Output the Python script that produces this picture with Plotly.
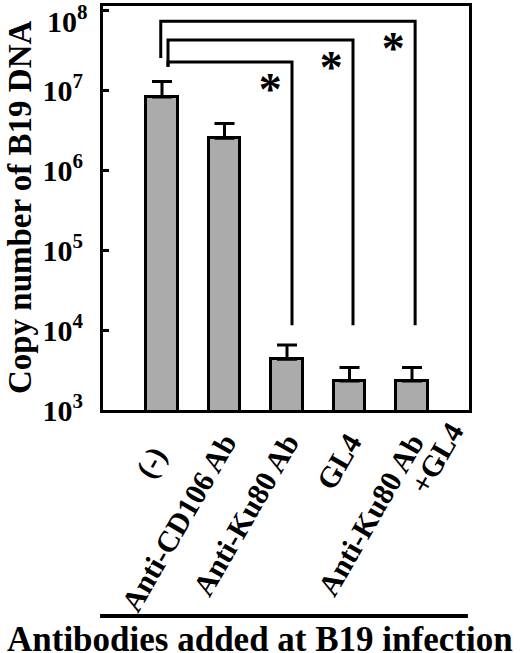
import plotly.graph_objects as go

# ---- data ----
categories = ["(-)", "Anti-CD106 Ab", "Anti-Ku80 Ab", "GL4", "Anti-Ku80 Ab +GL4"]
tick_labels = ["(-)&nbsp;&nbsp;", "Anti-CD106 Ab", "Anti-Ku80 Ab", "GL4", "Anti-Ku80 Ab"]
copy_number = [8.2e6, 2.5e6, 4.3e3, 2.3e3, 2.3e3]
error_upper = [1.28e7, 3.8e6, 6.5e3, 3.4e3, 3.4e3]
compared_to = [2, 3, 4]          # each compared with category 0, marked *
y_tick_vals = [1e3, 1e4, 1e5, 1e6, 1e7, 1e8]
y_tick_text = ["10<sup>3</sup>", "10<sup>4</sup>", "10<sup>5</sup>",
               "10<sup>6</sup>", "10<sup>7</sup>", ""]
top_tick_text = "10<sup>8</sup>"   # drawn a little lower, as in the reference

FONT = "Liberation Serif"
x_pos = list(range(len(categories)))
err_plus = [u - v for u, v in zip(error_upper, copy_number)]

fig = go.Figure()
fig.add_trace(go.Bar(
    x=x_pos, y=copy_number, width=0.51,
    marker=dict(color="#ababab", line=dict(color="black", width=3)),
    error_y=dict(type="data", symmetric=False, array=err_plus,
                 arrayminus=[0] * len(err_plus), color="black",
                 thickness=3, width=10),
    showlegend=False, hoverinfo="skip",
))

# significance brackets (log10 heights)
bracket_tops = {2: 7.35, 3: 7.625, 4: 7.86}
left_x = {2: 0.096, 3: 0.096, 4: -0.02}
left_bottom = {2: 7.29, 3: 7.29, 4: 7.40}
right_off = {2: 0.08, 3: 0.056, 4: 0.05}
leg_bottom = 4.06
for k in compared_to:
    top = 10 ** bracket_tops[k]
    xs = [left_x[k], left_x[k], k + right_off[k], k + right_off[k]]
    ys = [10 ** left_bottom[k], top, top, 10 ** leg_bottom]
    fig.add_trace(go.Scatter(x=xs, y=ys, mode="lines",
                             line=dict(color="black", width=3),
                             showlegend=False, hoverinfo="skip"))
    fig.add_trace(go.Scatter(x=[k + right_off[k] - 0.35],
                             y=[10 ** (bracket_tops[k] - 0.39)],
                             mode="text", text=["<b>*</b>"],
                             textfont=dict(family=FONT, size=46, color="black"),
                             textposition="middle center",
                             showlegend=False, hoverinfo="skip"))

fig.update_layout(
    width=520, height=653,
    margin=dict(l=103, r=51, t=6, b=243, autoexpand=False),
    paper_bgcolor="white", plot_bgcolor="white",
    bargap=0,
)
fig.update_xaxes(
    range=[-0.944, 4.912], tickmode="array", tickvals=x_pos,
    ticktext=["<b>%s</b>" % t for t in tick_labels],
    tickangle=-60, showline=True, mirror=True, linecolor="black", linewidth=3,
    ticks="", showgrid=False, zeroline=False, automargin=False,
    ticklabeloverflow="allow",
    tickfont=dict(family=FONT, size=30, color="black"),
)
fig.update_yaxes(
    type="log", range=[3, 8.05], tickmode="array", tickvals=y_tick_vals,
    ticktext=["<b>%s</b>" % t if t else "" for t in y_tick_text],
    ticks="inside", ticklen=6, tickwidth=3, tickcolor="black",
    showline=True, mirror=True, linecolor="black", linewidth=3,
    showgrid=False, zeroline=False, ticklabelstandoff=11, automargin=False,
    ticklabeloverflow="allow",
    tickfont=dict(family=FONT, size=30, color="black"),
)

fig.add_annotation(xref="paper", yref="y", x=-0.035, y=8, yshift=-9,
                   xanchor="right", yanchor="middle", showarrow=False,
                   text="<b>%s</b>" % top_tick_text,
                   font=dict(family=FONT, size=30, color="black"))
fig.add_annotation(xref="x", yref="paper", x=4, y=-0.012, xshift=60,
                   text="<b>+GL4</b>", textangle=-60, xanchor="right", yanchor="top",
                   showarrow=False,
                   font=dict(family=FONT, size=30, color="black"))
fig.add_annotation(xref="paper", yref="paper", x=-0.227, y=0.502,
                   xanchor="center", yanchor="middle",
                   text="<b>Copy number of B19 DNA</b>", textangle=-90,
                   showarrow=False,
                   font=dict(family=FONT, size=33, color="black"))
fig.add_annotation(xref="paper", yref="paper", x=0.429, y=-0.567,
                   xanchor="center", yanchor="middle",
                   text="<b>Antibodies added at B19 infection</b>", showarrow=False,
                   font=dict(family=FONT, size=35, color="black"))
fig.add_shape(type="line", xref="paper", yref="paper", x0=-0.008, x1=0.997,
              y0=-0.51, y1=-0.51, line=dict(color="black", width=4))

fig.write_html("out.html", config={"displayModeBar": False},
               post_script="document.body.style.margin='0';")
